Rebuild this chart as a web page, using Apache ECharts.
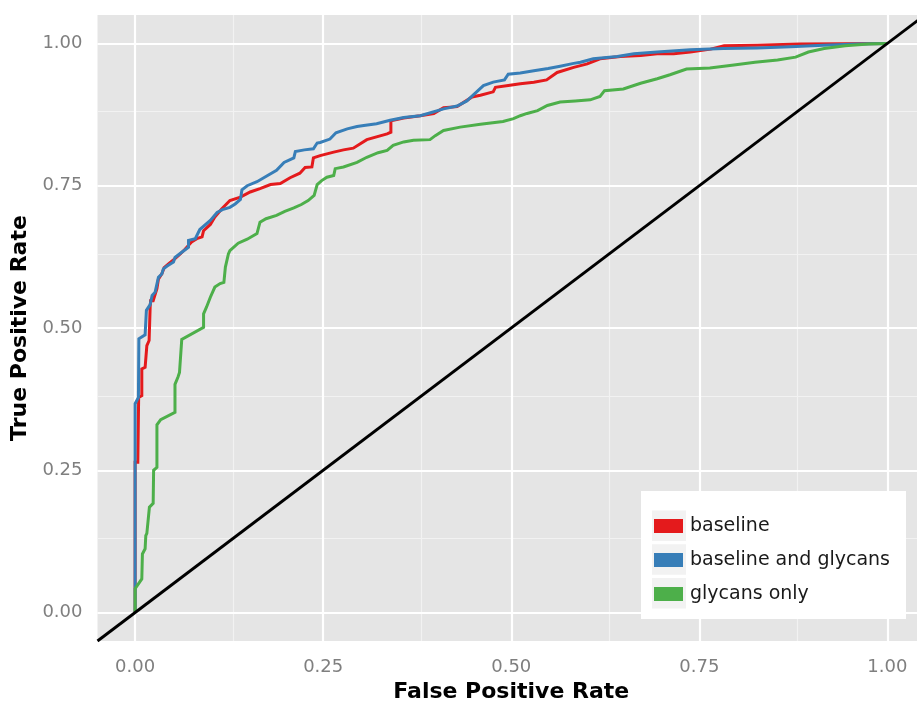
<!DOCTYPE html>
<html>
<head>
<meta charset="utf-8">
<script src="https://cdn.jsdelivr.net/npm/echarts@6/dist/echarts.min.js"></script>
<style>
html,body{margin:0;padding:0;background:#ffffff;}
#chart{width:917px;height:702px;}
</style>
</head>
<body>
<div id="chart"></div>
<script>
// ---- data ----
const seriesNames = ['baseline', 'baseline and glycans', 'glycans only'];
const seriesColors = ['#E41A1C', '#377EB8', '#4DAF4A'];
const xTickValues = [0, 0.25, 0.5, 0.75, 1];
const yTickValues = [0, 0.25, 0.5, 0.75, 1];
const minorGridValues = [0.125, 0.375, 0.625, 0.875];
const axisRange = [-0.05, 1.05];

const baselineFPR = [0, 0, 0.0036, 0.0047, 0.0089, 0.0089, 0.0133, 0.0156, 0.0186, 0.020, 0.0206, 0.024, 0.029, 0.031, 0.0355, 0.0386, 0.044, 0.053, 0.060, 0.066, 0.075, 0.082, 0.089, 0.091, 0.100, 0.106, 0.115, 0.126, 0.140, 0.153, 0.166, 0.180, 0.193, 0.206, 0.219, 0.226, 0.235, 0.237, 0.246, 0.264, 0.277, 0.290, 0.308, 0.335, 0.340, 0.340, 0.357, 0.379, 0.397, 0.410, 0.428, 0.441, 0.448, 0.459, 0.476, 0.479, 0.496, 0.512, 0.530, 0.547, 0.561, 0.583, 0.601, 0.618, 0.645, 0.672, 0.694, 0.716, 0.738, 0.765, 0.783, 0.827, 0.884, 1];
const baselineTPR = [0, 0.264, 0.264, 0.378, 0.381, 0.428, 0.431, 0.469, 0.478, 0.537, 0.548, 0.548, 0.569, 0.586, 0.595, 0.606, 0.612, 0.622, 0.630, 0.638, 0.651, 0.657, 0.660, 0.671, 0.682, 0.695, 0.709, 0.724, 0.730, 0.739, 0.745, 0.752, 0.754, 0.764, 0.772, 0.782, 0.783, 0.799, 0.803, 0.809, 0.813, 0.816, 0.831, 0.841, 0.844, 0.864, 0.869, 0.873, 0.877, 0.887, 0.889, 0.900, 0.906, 0.909, 0.915, 0.923, 0.926, 0.929, 0.932, 0.936, 0.949, 0.958, 0.964, 0.973, 0.977, 0.979, 0.982, 0.982, 0.985, 0.990, 0.996, 0.997, 0.999, 1];

const combinedFPR = [0, 0, 0.0044, 0.005, 0.0133, 0.015, 0.020, 0.0226, 0.0266, 0.031, 0.0355, 0.0376, 0.0426, 0.051, 0.053, 0.062, 0.071, 0.071, 0.080, 0.086, 0.100, 0.109, 0.116, 0.126, 0.133, 0.140, 0.142, 0.149, 0.162, 0.175, 0.188, 0.198, 0.211, 0.213, 0.225, 0.237, 0.242, 0.246, 0.259, 0.267, 0.282, 0.295, 0.304, 0.321, 0.339, 0.357, 0.379, 0.395, 0.410, 0.428, 0.441, 0.454, 0.463, 0.476, 0.491, 0.496, 0.512, 0.530, 0.549, 0.565, 0.583, 0.592, 0.609, 0.641, 0.663, 0.694, 0.738, 0.782, 0.827, 0.871, 0.915, 0.960, 1];
const combinedTPR = [0, 0.367, 0.378, 0.481, 0.488, 0.531, 0.541, 0.557, 0.563, 0.589, 0.595, 0.604, 0.609, 0.616, 0.624, 0.633, 0.642, 0.654, 0.657, 0.673, 0.689, 0.703, 0.708, 0.712, 0.718, 0.726, 0.743, 0.750, 0.757, 0.767, 0.777, 0.791, 0.799, 0.810, 0.813, 0.815, 0.825, 0.826, 0.832, 0.843, 0.850, 0.854, 0.856, 0.859, 0.865, 0.870, 0.873, 0.879, 0.885, 0.890, 0.899, 0.915, 0.926, 0.932, 0.936, 0.946, 0.948, 0.952, 0.956, 0.960, 0.965, 0.967, 0.973, 0.977, 0.982, 0.985, 0.989, 0.991, 0.992, 0.994, 0.997, 0.999, 1];

const glycansFPR = [0, 0, 0.0089, 0.0097, 0.0133, 0.0142, 0.0156, 0.019, 0.024, 0.0246, 0.029, 0.029, 0.034, 0.053, 0.053, 0.057, 0.059, 0.062, 0.091, 0.091, 0.095, 0.100, 0.106, 0.113, 0.118, 0.120, 0.124, 0.126, 0.137, 0.149, 0.162, 0.166, 0.174, 0.188, 0.199, 0.211, 0.221, 0.230, 0.238, 0.242, 0.248, 0.255, 0.264, 0.266, 0.277, 0.295, 0.308, 0.323, 0.335, 0.343, 0.357, 0.370, 0.392, 0.399, 0.410, 0.432, 0.459, 0.489, 0.503, 0.512, 0.521, 0.535, 0.548, 0.565, 0.585, 0.605, 0.618, 0.624, 0.649, 0.672, 0.694, 0.711, 0.733, 0.764, 0.796, 0.824, 0.854, 0.878, 0.895, 0.916, 0.944, 0.975, 1];
const glycansTPR = [0, 0.042, 0.059, 0.103, 0.112, 0.135, 0.139, 0.185, 0.192, 0.250, 0.255, 0.330, 0.339, 0.352, 0.401, 0.414, 0.422, 0.480, 0.501, 0.525, 0.537, 0.554, 0.572, 0.578, 0.580, 0.607, 0.630, 0.636, 0.649, 0.656, 0.666, 0.686, 0.692, 0.698, 0.705, 0.711, 0.717, 0.724, 0.733, 0.752, 0.759, 0.765, 0.768, 0.780, 0.783, 0.791, 0.800, 0.808, 0.812, 0.821, 0.827, 0.830, 0.831, 0.838, 0.847, 0.853, 0.858, 0.863, 0.868, 0.873, 0.877, 0.882, 0.891, 0.897, 0.899, 0.901, 0.907, 0.917, 0.920, 0.930, 0.938, 0.945, 0.955, 0.957, 0.962, 0.967, 0.971, 0.976, 0.985, 0.991, 0.996, 0.999, 1];

const diagonalFPR = [-0.05, 1.05];
const diagonalTPR = [-0.05, 1.05];

// ---- helpers ----
function zip(xs, ys) { return xs.map((x, i) => [x, ys[i]]); }
const FONT = 'DejaVu Sans';

const majorStyle = { color: '#ffffff', width: 2.2, type: 'solid' };
const minorStyle = { color: '#f2f2f2', width: 1.1, type: 'solid' };
const gridLines = [];
minorGridValues.forEach(v => gridLines.push({ xAxis: v, lineStyle: minorStyle }));
minorGridValues.forEach(v => gridLines.push({ yAxis: v, lineStyle: minorStyle }));
xTickValues.forEach(v => gridLines.push({ xAxis: v, lineStyle: majorStyle }));
yTickValues.forEach(v => gridLines.push({ yAxis: v, lineStyle: majorStyle }));

function curve(name, idx, xs, ys) {
  return {
    name: name, type: 'line', data: zip(xs, ys), showSymbol: false, symbol: 'none',
    z: 10 + idx, clip: true, animation: false, silent: true,
    lineStyle: { color: seriesColors[idx], width: 3, join: 'miter' },
    itemStyle: { color: seriesColors[idx] }
  };
}

const chart = echarts.init(document.getElementById('chart'), null, { renderer: 'canvas' });
const option = {
  animation: false,
  backgroundColor: '#ffffff',
  textStyle: { fontFamily: FONT },
  grid: { left: 97.5, top: 15, width: 827.5, height: 626, show: true, backgroundColor: '#e5e5e5', borderWidth: 0, containLabel: false, outerBoundsMode: 'none' },
  xAxis: {
    type: 'value', min: axisRange[0], max: axisRange[1],
    name: 'False Positive Rate', nameLocation: 'middle', nameGap: 37,
    nameTextStyle: { fontFamily: FONT, fontWeight: 'bold', fontSize: 22, color: '#000000' },
    axisLine: { show: false },
    axisTick: { show: true, length: 8, customValues: xTickValues, lineStyle: { color: '#7f7f7f', width: 2 } },
    axisLabel: { show: true, customValues: xTickValues, margin: 17, fontFamily: FONT, fontSize: 18, color: '#7f7f7f', formatter: v => v.toFixed(2) },
    splitLine: { show: false }, minorSplitLine: { show: false }
  },
  yAxis: {
    type: 'value', min: axisRange[0], max: axisRange[1],
    name: 'True Positive Rate', nameLocation: 'middle', nameGap: 62, nameRotate: 90,
    nameTextStyle: { fontFamily: FONT, fontWeight: 'bold', fontSize: 22, color: '#000000' },
    axisLine: { show: false },
    axisTick: { show: true, length: 8, customValues: yTickValues, lineStyle: { color: '#7f7f7f', width: 2 } },
    axisLabel: { show: true, customValues: yTickValues, margin: 15, fontFamily: FONT, fontSize: 18, color: '#7f7f7f', formatter: v => v.toFixed(2) },
    splitLine: { show: false }, minorSplitLine: { show: false }
  },
  legend: {
    data: seriesNames.map(n => ({ name: n, icon: 'rect' })),
    orient: 'vertical', left: 654, top: 509, padding: 0, itemGap: 0,
    itemWidth: 29, itemHeight: 14, z: 30,
    itemStyle: { borderWidth: 0 },
    selectedMode: false,
    textStyle: { fontFamily: FONT, fontSize: 19, color: '#1a1a1a', lineHeight: 34, padding: [0, 0, 0, 2] }
  },
  graphic: [
    { type: 'rect', z: 20, shape: { x: 641, y: 491, width: 265, height: 128 }, style: { fill: '#ffffff' }, silent: true },
    { type: 'rect', z: 21, shape: { x: 652, y: 510.5, width: 34, height: 30.5 }, style: { fill: '#f2f2f2' }, silent: true },
    { type: 'rect', z: 21, shape: { x: 652, y: 544.3, width: 34, height: 30.5 }, style: { fill: '#f2f2f2' }, silent: true },
    { type: 'rect', z: 21, shape: { x: 652, y: 578.1, width: 34, height: 30.5 }, style: { fill: '#f2f2f2' }, silent: true }
  ],
  series: [
    {
      name: '__grid', type: 'line', data: [], z: 1, silent: true, animation: false,
      markLine: { z: 1, silent: true, symbol: ['none', 'none'], label: { show: false }, animation: false, emphasis: { disabled: true }, data: gridLines }
    },
    curve(seriesNames[0], 0, baselineFPR, baselineTPR),
    curve(seriesNames[1], 1, combinedFPR, combinedTPR),
    curve(seriesNames[2], 2, glycansFPR, glycansTPR),
    {
      name: '__diagonal', type: 'line', data: zip(diagonalFPR, diagonalTPR), showSymbol: false, symbol: 'none',
      z: 15, clip: true, silent: true, animation: false,
      lineStyle: { color: '#000000', width: 2.9 }
    }
  ]
};
chart.setOption(option);
</script>
</body>
</html>
